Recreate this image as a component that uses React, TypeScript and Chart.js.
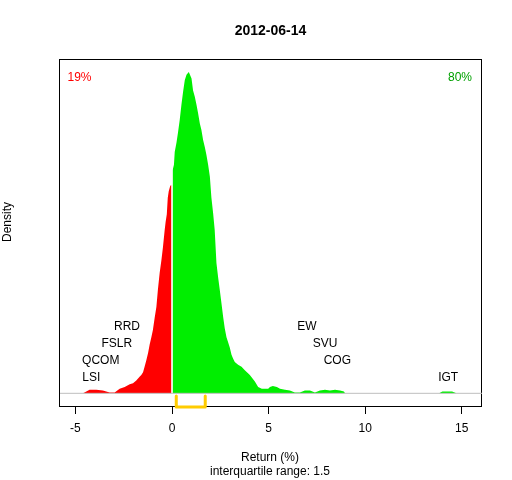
import { useEffect, useRef } from "react";
import Chart from "chart.js/auto";

// density estimate, split at zero
const redX = [-4.62, -4.53, -4.27, -3.92, -3.58, -3.23, -2.97, -2.71, -2.45, -2.19, -2.02, -1.85, -1.68, -1.59, -1.5, -1.42, -1.33, -1.24, -1.16, -1.07, -0.99, -0.9, -0.81, -0.73, -0.64, -0.55, -0.47, -0.38, -0.33, -0.27, -0.22, -0.17, -0.09, -0.03];
const redY = [0, 0.001, 0.004, 0.004, 0.003, 0.001, 0.001, 0.005, 0.007, 0.01, 0.011, 0.014, 0.018, 0.02, 0.023, 0.029, 0.036, 0.044, 0.053, 0.061, 0.069, 0.082, 0.094, 0.113, 0.131, 0.145, 0.159, 0.178, 0.187, 0.195, 0.213, 0.22, 0.226, 0.227];
const greenX = [0.03, 0.1, 0.14, 0.23, 0.31, 0.4, 0.49, 0.57, 0.66, 0.75, 0.87, 1.01, 1.09, 1.18, 1.27, 1.35, 1.44, 1.52, 1.61, 1.7, 1.78, 1.87, 1.96, 2.04, 2.13, 2.21, 2.3, 2.39, 2.47, 2.56, 2.65, 2.73, 2.82, 2.9, 2.99, 3.08, 3.16, 3.25, 3.42, 3.6, 3.77, 4.03, 4.29, 4.46, 4.65, 4.98, 5.07, 5.22, 5.43, 5.59, 5.85, 6.1, 6.36, 6.62, 6.88, 7.14, 7.4, 7.66, 7.92, 8.18, 8.44, 8.7, 8.9, 8.96, 13.83, 14.0, 14.3, 14.5, 14.73];
const greenY = [0.243, 0.249, 0.263, 0.273, 0.284, 0.298, 0.315, 0.328, 0.341, 0.347, 0.35, 0.343, 0.33, 0.323, 0.314, 0.305, 0.294, 0.287, 0.276, 0.268, 0.26, 0.249, 0.236, 0.213, 0.196, 0.178, 0.142, 0.126, 0.113, 0.098, 0.083, 0.071, 0.061, 0.056, 0.05, 0.042, 0.038, 0.034, 0.031, 0.029, 0.025, 0.02, 0.013, 0.007, 0.005, 0.005, 0.007, 0.008, 0.007, 0.005, 0.004, 0.003, 0.001, 0.001, 0.003, 0.003, 0.001, 0.003, 0.004, 0.003, 0.004, 0.003, 0.002, 0, 0, 0.002, 0.002, 0.002, 0];

// outlier tickers and their returns
const stockNames = ["LSI", "QCOM", "FSLR", "RRD", "EW", "SVU", "COG", "IGT"];
const stockReturns = [-4.18, -3.69, -2.86, -2.33, 6.98, 7.92, 8.56, 14.3];
const stockLevels = [0, 1, 2, 3, 3, 2, 1, 0];

const pctBelow = "19%";
const pctAbove = "80%";
const iqrLow = 0.22;
const iqrHigh = 1.72;
const xTicks = [-5, 0, 5, 10, 15];

const X_MIN = -5.8;
const X_MAX = 16.05;
const Y_MIN = -0.0149;
const Y_MAX = 0.3642;
const FONT = '"Liberation Sans", Arial, sans-serif';

const toPoints = (xs: number[], ys: number[]) => xs.map((x, i) => ({ x, y: ys[i] }));

const decor = {
  id: "decor",
  beforeDatasetsDraw(chart: any) {
    const { ctx, chartArea } = chart;
    ctx.save();
    ctx.strokeStyle = "#000";
    ctx.lineWidth = 1;
    ctx.strokeRect(chartArea.left - 0.5, chartArea.top + 0.5, chartArea.right - chartArea.left, chartArea.bottom - chartArea.top - 1);
    ctx.restore();
  },
  afterDatasetsDraw(chart: any) {
    const { ctx, chartArea } = chart;
    const xs = chart.scales.x;
    const ys = chart.scales.y;
    ctx.save();
    ctx.textAlign = "center";
    ctx.textBaseline = "middle";
    ctx.fillStyle = "#000";

    ctx.font = `bold 14px ${FONT}`;
    ctx.fillText("2012-06-14", 270.5, 31);

    ctx.font = `12px ${FONT}`;
    ctx.fillText("Return (%)", 270, 457.5);
    ctx.fillText("interquartile range: 1.5", 270, 472);

    ctx.save();
    ctx.translate(8, 222);
    ctx.rotate(-Math.PI / 2);
    ctx.fillText("Density", 0, 0);
    ctx.restore();

    stockNames.forEach((name, i) => {
      ctx.fillText(name, xs.getPixelForValue(stockReturns[i]), ys.getPixelForValue(0.0172 + stockLevels[i] * 0.0183));
    });

    ctx.textAlign = "left";
    ctx.fillStyle = "#FF0000";
    ctx.fillText(pctBelow, chartArea.left + 7.5, chartArea.top + 18.7);
    ctx.textAlign = "right";
    ctx.fillStyle = "#00A000";
    ctx.fillText(pctAbove, chartArea.right - 10, chartArea.top + 18.7);
    ctx.restore();
  },
};

const App = () => {
  const canvasRef = useRef<HTMLCanvasElement | null>(null);

  useEffect(() => {
    if (!canvasRef.current) return;

    const chart = new Chart(canvasRef.current, {
      type: "line",
      data: {
        datasets: [
          {
            data: [{ x: X_MIN, y: 0 }, { x: X_MAX, y: 0 }],
            borderColor: "#BEBEBE",
            borderWidth: 1,
            pointRadius: 0,
            fill: false,
          },
          {
            data: [
              { x: iqrLow, y: -0.0029 },
              { x: iqrLow, y: Y_MIN },
              { x: iqrHigh, y: Y_MIN },
              { x: iqrHigh, y: -0.0029 },
            ],
            borderColor: "#FFCC00",
            borderWidth: 3,
            borderCapStyle: "round",
            borderJoinStyle: "round",
            pointRadius: 0,
            fill: false,
            clip: false,
          },
          {
            data: toPoints(redX, redY),
            backgroundColor: "#FF0000",
            borderWidth: 0,
            pointRadius: 0,
            fill: "origin",
          },
          {
            data: toPoints(greenX, greenY),
            backgroundColor: "#00EE00",
            borderWidth: 0,
            pointRadius: 0,
            fill: "origin",
          },
        ],
      },
      options: {
        animation: false,
        responsive: true,
        maintainAspectRatio: false,
        layout: { padding: { left: 60, right: 30, top: 59, bottom: 0 } },
        plugins: {
          legend: { display: false },
          tooltip: { enabled: false },
          title: { display: false },
        },
        scales: {
          x: {
            type: "linear",
            min: X_MIN,
            max: X_MAX,
            afterFit: (s: any) => {
              s.height = 73;
            },
            afterBuildTicks: (s: any) => {
              s.ticks = xTicks.map((v) => ({ value: v }));
            },
            grid: { display: true, drawOnChartArea: false, drawTicks: true, tickLength: 7, color: "#000" },
            border: { display: false },
            ticks: { autoSkip: false, maxRotation: 0, padding: 7, color: "#000", font: { size: 12, family: FONT } },
          },
          y: {
            type: "linear",
            display: false,
            min: Y_MIN,
            max: Y_MAX,
          },
        },
      },
      plugins: [decor],
    });

    return () => {
      chart.destroy();
    };
  }, []);

  return (
    <div style={{ position: "fixed", left: 0, top: 0, width: 512, height: 480, background: "#fff" }}>
      <canvas ref={canvasRef}></canvas>
    </div>
  );
};

export default App;
